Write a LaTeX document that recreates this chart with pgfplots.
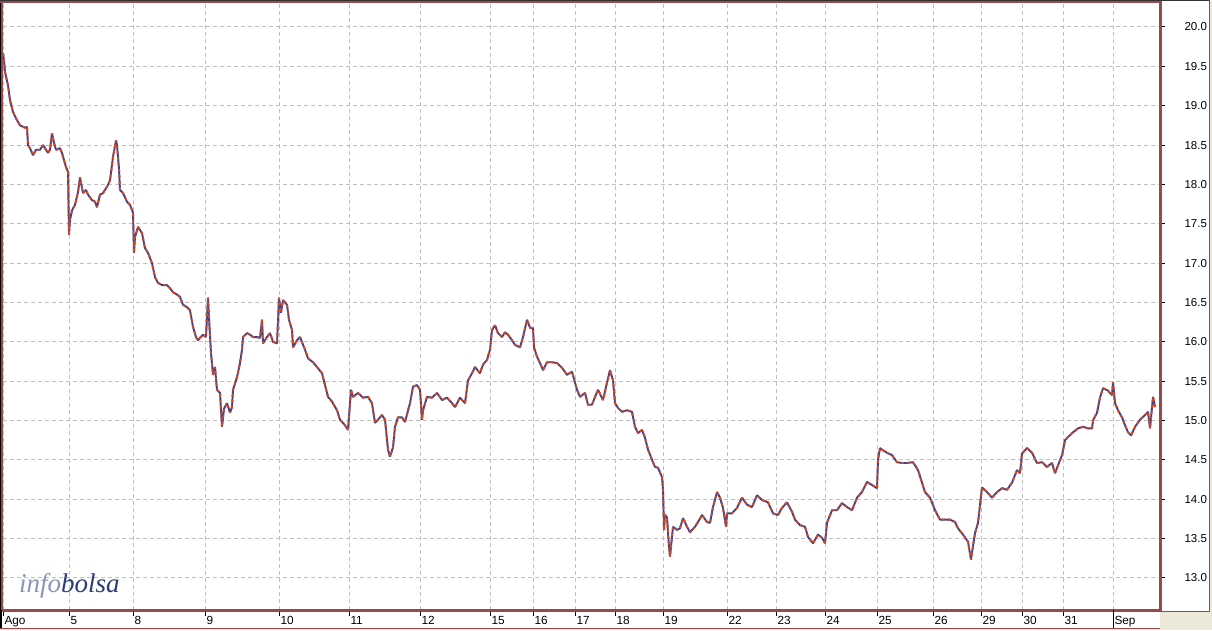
\documentclass[border=0pt]{standalone}
\usepackage{pgfplots}
\usepackage{pgfplotstable}
\usepackage{fontspec}
\setmainfont{Liberation Sans}
\newfontfamily\wmfont{Liberation Serif}
\pgfplotsset{compat=1.18}
\definecolor{frameR}{RGB}{155,72,72}
\definecolor{beigeBG}{RGB}{236,233,216}
\definecolor{serBlue}{RGB}{58,68,150}
\definecolor{serRed}{RGB}{214,72,28}
\definecolor{gridG}{RGB}{192,192,192}
\definecolor{wmLight}{RGB}{140,148,188}
\definecolor{wmDark}{RGB}{43,58,122}
\pgfplotstableread{
x p
3 19.67
4 19.58
5 19.43
8 19.26
10 19.07
13 18.92
16 18.84
20 18.75
25 18.72
27 18.73
28 18.50
30 18.46
33 18.37
36 18.44
40 18.44
43 18.50
45 18.46
48 18.40
50 18.44
52 18.65
54 18.53
56 18.44
60 18.46
62 18.40
64 18.31
66 18.22
68 18.16
69 17.36
70 17.55
72 17.67
75 17.74
78 17.90
80 18.09
83 17.89
86 17.93
88 17.87
92 17.80
95 17.78
97 17.71
100 17.87
103 17.89
107 17.97
110 18.05
113 18.35
116 18.56
117 18.50
119 18.20
120 17.93
123 17.89
127 17.78
130 17.74
133 17.64
134 17.13
135 17.33
138 17.46
142 17.38
145 17.19
148 17.13
152 17.00
155 16.82
158 16.75
162 16.72
167 16.72
170 16.68
173 16.63
177 16.60
180 16.57
183 16.47
187 16.44
190 16.40
193 16.19
196 16.06
198 16.02
200 16.05
203 16.09
206 16.06
208 16.56
209 16.30
211 15.86
213 15.58
215 15.68
217 15.39
220 15.35
222 14.92
224 15.15
227 15.22
230 15.10
232 15.17
233 15.39
237 15.55
240 15.73
242 15.90
243 16.06
247 16.11
250 16.09
253 16.06
257 16.06
260 16.05
262 16.28
263 15.98
267 16.06
270 16.11
273 16.00
277 15.98
279 16.56
281 16.37
283 16.53
287 16.47
289 16.28
292 16.15
293 15.93
297 16.02
300 16.06
305 15.90
308 15.79
313 15.74
317 15.68
322 15.60
325 15.45
328 15.30
332 15.24
337 15.13
340 15.01
345 14.94
348 14.88
351 15.39
353 15.30
358 15.35
363 15.29
368 15.30
372 15.22
375 14.97
378 15.01
382 15.07
385 15.01
388 14.63
390 14.54
393 14.66
395 14.92
398 15.04
402 15.04
405 14.98
410 15.22
413 15.43
417 15.45
420 15.39
422 15.01
423 15.13
427 15.30
432 15.29
437 15.35
442 15.26
447 15.29
452 15.22
455 15.17
460 15.29
465 15.22
468 15.51
472 15.60
475 15.68
480 15.60
483 15.71
487 15.77
490 15.90
492 16.15
495 16.21
498 16.11
502 16.06
505 16.12
508 16.09
512 16.02
515 15.96
520 15.93
523 16.06
527 16.28
530 16.18
533 16.17
534 15.93
537 15.81
540 15.73
543 15.64
547 15.74
552 15.74
557 15.73
562 15.67
567 15.58
572 15.62
577 15.39
580 15.30
585 15.35
588 15.20
592 15.20
595 15.30
598 15.39
603 15.26
607 15.48
610 15.64
613 15.51
615 15.22
618 15.16
622 15.11
627 15.13
632 15.11
635 14.92
638 14.84
642 14.88
645 14.78
648 14.63
652 14.50
655 14.41
658 14.40
662 14.28
663 14.12
664 13.61
665 13.80
667 13.77
669 13.39
670 13.27
673 13.65
677 13.61
680 13.63
683 13.76
687 13.65
690 13.58
695 13.65
698 13.71
702 13.80
707 13.71
710 13.70
713 13.90
717 14.09
720 14.02
723 13.89
726 13.65
727 13.82
732 13.82
737 13.89
742 14.02
747 13.93
752 13.90
757 14.05
762 13.99
768 13.96
773 13.82
778 13.80
782 13.89
787 13.96
792 13.84
795 13.74
800 13.67
805 13.65
808 13.52
813 13.44
818 13.55
822 13.51
825 13.44
827 13.70
832 13.86
837 13.86
842 13.95
847 13.90
852 13.86
857 14.02
862 14.09
867 14.22
872 14.18
877 14.14
878 14.50
880 14.65
882 14.63
887 14.59
892 14.56
897 14.47
902 14.46
907 14.46
913 14.47
918 14.37
922 14.21
925 14.09
930 14.02
935 13.86
940 13.74
945 13.74
950 13.74
955 13.71
958 13.63
963 13.55
968 13.46
971 13.23
972 13.32
975 13.57
978 13.70
982 14.15
987 14.09
992 14.02
997 14.09
1002 14.14
1007 14.12
1012 14.21
1017 14.37
1020 14.33
1022 14.58
1027 14.65
1032 14.59
1037 14.46
1042 14.47
1047 14.41
1052 14.46
1055 14.33
1058 14.43
1062 14.56
1065 14.75
1068 14.79
1073 14.85
1078 14.90
1083 14.92
1088 14.90
1092 14.90
1093 15.00
1097 15.10
1100 15.29
1103 15.41
1108 15.38
1112 15.32
1113 15.49
1115 15.22
1118 15.13
1122 15.04
1125 14.94
1128 14.85
1131 14.81
1135 14.92
1140 15.01
1145 15.07
1148 15.11
1150 14.90
1153 15.30
1155 15.17
}\pricedata
\begin{document}
\begin{tikzpicture}[x=1pt,y=1pt]
\fill[beigeBG] (0,0) rectangle (1212,630);
\fill[white] (0,20) rectangle (1160,630);
\fill[white] (0,1) rectangle (1160,20);
\fill[white] (1160,18) rectangle (1210,630);
\begin{axis}[
  at={(3pt,20pt)}, anchor=south west,
  scale only axis, width=1156pt, height=607pt,
  xmin=3, xmax=1159, ymin=12.592, ymax=20.305,
  axis line style={draw=none},
  tick align=outside,
  xtick pos=bottom, ytick pos=right,
  xtick={3,69,133,205,279,349,420,490,533,575,615,663,727,776,825,877,933,981,1022,1063,1113},
  xticklabels={Ago,5,8,9,10,11,12,15,16,17,18,19,22,23,24,25,26,29,30,31,Sep},
  ytick={13,13.5,...,20.01},
  minor y tick num=4,
  major tick length=6pt, minor tick length=3pt,
  x tick style={black, line width=1pt},
  y tick style={black, line width=1pt},
  grid=major,
  major grid style={gridG, line width=1pt, dash pattern=on 4pt off 3pt},
  xticklabel style={font=\fontsize{11.8}{13}\selectfont, anchor=north west, xshift=-2pt, yshift=3.5pt},
  yticklabel style={font=\fontsize{11.5}{13}\selectfont, anchor=west, xshift=16pt},
  /pgf/number format/.cd, fixed, fixed zerofill, precision=1, assume math mode=true,
]
\addplot[serBlue, line width=1.9pt, line join=bevel] table[x=x,y=p]{\pricedata};
\addplot[serRed, line width=1.9pt, line join=bevel, dash pattern=on 3pt off 3pt] table[x=x,y=p]{\pricedata};
\end{axis}
% frames
\draw[frameR, line width=3pt] (0,20) -- (1160,20);
\draw[frameR, line width=3pt] (1160,18) -- (1160,630);
\draw[frameR, line width=2pt] (2,20) -- (2,630);
\draw[black, line width=1pt] (0.5,20) -- (0.5,630);
\draw[frameR, line width=2pt] (0,628) -- (1160,628);
\draw[black!80, line width=1pt] (0,629.5) -- (1210,629.5);
\draw[frameR, line width=1.5pt] (0,1.75) -- (1160,1.75);
\draw[frameR, line width=1.5pt] (1160,18.75) -- (1209.25,18.75) -- (1209.25,630);
\draw[black, line width=2pt] (1,2) -- (1,20);
\draw[black, line width=1pt] (1113,2) -- (1113,20);
\node[anchor=base west, inner sep=0pt] at (19,38) {\fontsize{27}{30}\selectfont\wmfont\itshape\textcolor{wmLight}{info}\textcolor{wmDark}{bolsa}};
\pgfresetboundingbox
\useasboundingbox (0,0) rectangle (1212,630);
\end{tikzpicture}
\end{document}
